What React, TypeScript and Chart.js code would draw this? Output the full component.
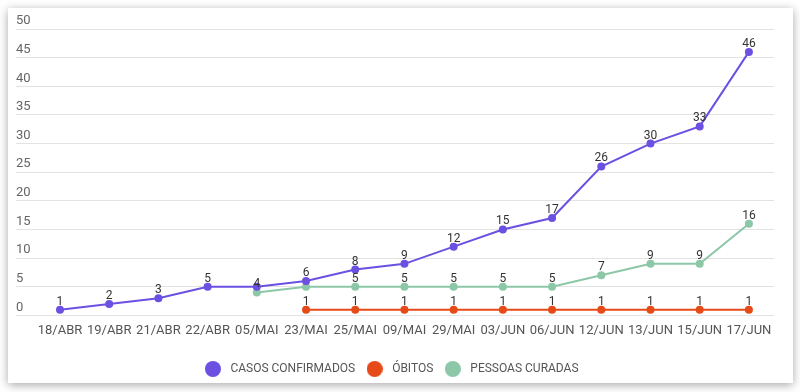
import React, { useEffect, useRef } from 'react';
import { Chart, registerables } from 'chart.js';

Chart.register(...registerables);

const categories = ['18/ABR', '19/ABR', '21/ABR', '22/ABR', '05/MAI', '23/MAI', '25/MAI', '09/MAI', '29/MAI', '03/JUN', '06/JUN', '12/JUN', '13/JUN', '15/JUN', '17/JUN'];
const casosConfirmados: (number | null)[] = [1, 2, 3, 5, 5, 6, 8, 9, 12, 15, 17, 26, 30, 33, 46];
const obitos: (number | null)[] = [null, null, null, null, null, 1, 1, 1, 1, 1, 1, 1, 1, 1, 1];
const pessoasCuradas: (number | null)[] = [null, null, null, null, 4, 5, 5, 5, 5, 5, 5, 7, 9, 9, 16];
const seriesNames = ['CASOS CONFIRMADOS', 'ÓBITOS', 'PESSOAS CURADAS'];
const seriesColors = ['#6b50e2', '#e64a19', '#8cc7a8'];
const yMin = 0;
const yMax = 50;
const yStep = 5;
// labels hidden in the reference because they collide: [datasetIndex, categoryIndex]
const hiddenLabels: [number, number][] = [[0, 4], [2, 5]];

const FONT = 'Roboto, "Noto Sans", sans-serif';

function toPoints(values: (number | null)[]) {
  return values
    .map((v, i) => ({ x: i, y: v }))
    .filter((p) => p.y !== null) as { x: number; y: number }[];
}

function makeDot(color: string) {
  const c = document.createElement('canvas');
  c.width = 16;
  c.height = 16;
  const g = c.getContext('2d')!;
  g.fillStyle = color;
  g.beginPath();
  g.arc(8, 8, 8, 0, Math.PI * 2);
  g.fill();
  return c;
}

const cardBackground = {
  id: 'cardBackground',
  beforeDraw(chart: any) {
    const ctx = chart.ctx;
    ctx.save();
    ctx.shadowColor = 'rgba(0,0,0,0.35)';
    ctx.shadowBlur = 9;
    ctx.shadowOffsetX = 0;
    ctx.shadowOffsetY = 2;
    ctx.fillStyle = '#fff';
    ctx.fillRect(8, 8, 785, 375);
    ctx.restore();
  },
};

const legendShift = {
  id: 'legendShift',
  afterLayout(chart: any) {
    const l = chart.legend;
    if (l) {
      l.left -= 5;
      l.right -= 5;
    }
  },
};

const valueLabels = {
  id: 'valueLabels',
  afterDatasetsDraw(chart: any) {
    const ctx = chart.ctx;
    ctx.save();
    ctx.font = `12px ${FONT}`;
    ctx.fillStyle = '#333';
    ctx.textAlign = 'center';
    ctx.textBaseline = 'alphabetic';
    chart.data.datasets.forEach((ds: any, di: number) => {
      const meta = chart.getDatasetMeta(di);
      meta.data.forEach((pt: any, k: number) => {
        const d = ds.data[k];
        if (!d || d.y == null) return;
        if (hiddenLabels.some(([a, b]) => a === di && b === d.x)) return;
        ctx.fillText(String(d.y), pt.x, pt.y - 5);
      });
    });
    ctx.restore();
  },
};

export default function App() {
  const ref = useRef<HTMLCanvasElement>(null);

  useEffect(() => {
    if (!ref.current) return;
    const allSeries = [casosConfirmados, obitos, pessoasCuradas];
    const chart = new Chart(ref.current, {
      type: 'line',
      data: {
        datasets: allSeries.map((s, i) => ({
          label: seriesNames[i],
          data: toPoints(s),
          borderColor: seriesColors[i],
          backgroundColor: seriesColors[i],
          borderWidth: 2,
          pointRadius: 4,
          pointHoverRadius: 4,
          pointBorderWidth: 0,
          tension: 0,
          fill: false,
        })),
      },
      options: {
        responsive: false,
        animation: false,
        layout: { padding: { top: 29, left: 16, right: 26, bottom: 7 } },
        plugins: {
          tooltip: { enabled: false },
          legend: {
            position: 'bottom',
            labels: {
              usePointStyle: true,
              pointStyleWidth: 23,
              padding: 8,
              color: '#555',
              font: { family: FONT, size: 12 },
              generateLabels: (ch: any) =>
                ch.data.datasets.map((ds: any, i: number) => ({
                  text: ds.label,
                  fillStyle: ds.borderColor,
                  strokeStyle: ds.borderColor,
                  lineWidth: 0,
                  pointStyle: makeDot(ds.borderColor),
                  hidden: !ch.isDatasetVisible(i),
                  datasetIndex: i,
                  fontColor: '#555',
                })),
            },
          },
        },
        scales: {
          x: {
            type: 'linear',
            min: -0.894,
            max: 14.51,
            grid: { display: false, drawTicks: false },
            border: { display: false },
            afterBuildTicks: (scale: any) => {
              scale.ticks = categories.map((_, i) => ({ value: i }));
            },
            ticks: {
              autoSkip: false,
              maxRotation: 0,
              minRotation: 0,
              padding: 8,
              color: '#555',
              font: { family: FONT, size: 13 },
              callback: (v: any) => (Number.isInteger(v) && categories[v] ? categories[v] : ''),
            },
            afterFit: (scale: any) => {
              scale.height += 8;
            },
          },
          y: {
            min: yMin,
            max: yMax,
            grid: { color: '#e3e3e3', drawTicks: false, lineWidth: 1 },
            border: { display: false },
            ticks: {
              stepSize: yStep,
              mirror: true,
              padding: 0,
              labelOffset: -8,
              color: '#666',
              font: { family: FONT, size: 13 },
            },
          },
        },
      },
      plugins: [cardBackground, legendShift, valueLabels],
    } as any);
    return () => chart.destroy();
  }, []);

  return (
    <canvas
      ref={ref}
      width={800}
      height={392}
      style={{ display: 'block', position: 'absolute', left: 0, top: 0 }}
    />
  );
}
